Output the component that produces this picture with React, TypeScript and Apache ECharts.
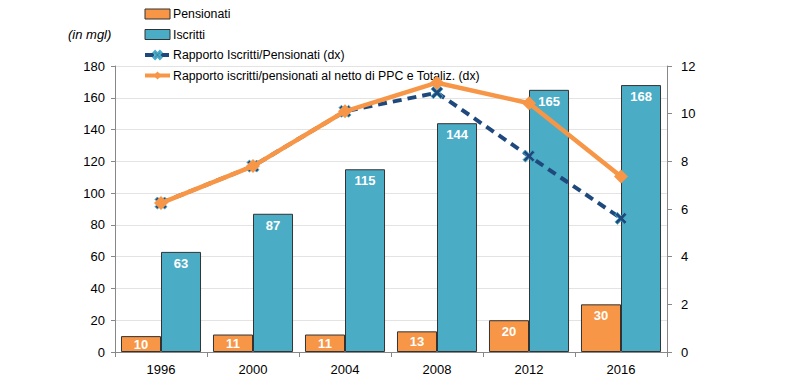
import React, { useEffect, useRef } from "react";
import * as echarts from "echarts";

const categories = ["1996", "2000", "2004", "2008", "2012", "2016"];
const pensionati = [10, 11, 11, 13, 20, 30];
const iscritti = [63, 87, 115, 144, 165, 168];
const rapporto = [6.25, 7.8, 10.1, 10.88, 8.22, 5.61];
const rapportoNetto = [6.25, 7.8, 10.1, 11.3, 10.44, 7.36];
const leftTicks = { min: 0, max: 180, interval: 20 };
const rightTicks = { min: 0, max: 12, interval: 2 };

const FONT = "Liberation Sans";
const XMARK = "path://M0,2 L2,0 L5,3 L8,0 L10,2 L7,5 L10,8 L8,10 L5,7 L2,10 L0,8 L3,5 Z";

export default function App() {
  const ref = useRef<HTMLDivElement>(null);
  useEffect(() => {
    if (!ref.current) return;
    const chart = echarts.init(ref.current, null, { renderer: "svg" });
    const smallLabel = (v: number) => v < 15;
    chart.setOption({
      animation: false,
      textStyle: { fontFamily: FONT },
      grid: { left: 115, right: 133, top: 66, bottom: 37 },
      legend: {
        orient: "vertical",
        left: 143,
        top: 8,
        padding: 0,
        itemWidth: 25,
        itemHeight: 10,
        itemGap: 8.5,
        lineStyle: { width: 4 },
        textStyle: { fontFamily: FONT, fontSize: 12.3, color: "#000", padding: [0, 0, 0, -2] },
        data: [
          { name: "Pensionati", icon: "rect", itemStyle: { borderColor: "#333", borderWidth: 1 } },
          { name: "Iscritti", icon: "rect", itemStyle: { borderColor: "#333", borderWidth: 1 } },
          { name: "Rapporto Iscritti/Pensionati (dx)" },
          { name: "Rapporto iscritti/pensionati al netto di PPC e Totaliz. (dx)" },
        ],
      },
      graphic: [
        {
          type: "text",
          left: 68,
          top: 28,
          style: { text: "(in mgl)", font: `italic 13px ${FONT}`, fill: "#000" },
        },
      ],
      xAxis: {
        type: "category",
        data: categories,
        axisLine: { lineStyle: { color: "#888" } },
        axisTick: { show: true, length: 5, lineStyle: { color: "#888" } },
        axisLabel: { color: "#000", fontSize: 13, margin: 11, fontFamily: FONT },
      },
      yAxis: [
        {
          type: "value",
          ...leftTicks,
          axisLine: { show: true, lineStyle: { color: "#888" } },
          axisTick: { show: true, length: 4, lineStyle: { color: "#888" } },
          axisLabel: { color: "#000", fontSize: 13, margin: 10, fontFamily: FONT },
          splitLine: { lineStyle: { color: "#e3e3e3" } },
        },
        {
          type: "value",
          ...rightTicks,
          position: "right",
          axisLine: { show: true, lineStyle: { color: "#888" } },
          axisTick: { show: true, length: 5, lineStyle: { color: "#888" } },
          axisLabel: { color: "#000", fontSize: 13, margin: 14, fontFamily: FONT },
          splitLine: { show: false },
        },
      ],
      series: [
        {
          name: "Pensionati",
          type: "bar",
          barGap: "0%",
          barCategoryGap: "13%",
          itemStyle: { color: "#F79646", borderColor: "#333", borderWidth: 1 },
          data: pensionati.map((v) => ({
            value: v,
            label: { position: smallLabel(v) ? "inside" : "insideTop" },
          })),
          label: {
            show: true,
            position: "insideTop",
            distance: 5,
            color: "#fff",
            fontWeight: "bold",
            fontSize: 13,
            fontFamily: FONT,
          },
        },
        {
          name: "Iscritti",
          type: "bar",
          barGap: "0%",
          barCategoryGap: "13%",
          itemStyle: { color: "#4BACC6", borderColor: "#333", borderWidth: 1 },
          data: iscritti,
          label: {
            show: true,
            position: "insideTop",
            distance: 5,
            color: "#fff",
            fontWeight: "bold",
            fontSize: 13,
            fontFamily: FONT,
          },
        },
        {
          name: "Rapporto Iscritti/Pensionati (dx)",
          type: "line",
          yAxisIndex: 1,
          data: rapporto,
          symbol: XMARK,
          symbolSize: 12,
          lineStyle: { color: "#1F497D", width: 4, type: [9, 6] },
          itemStyle: { color: "#1F497D", borderColor: "#4BACC6", borderWidth: 1 },
          z: 3,
        },
        {
          name: "Rapporto iscritti/pensionati al netto di PPC e Totaliz. (dx)",
          type: "line",
          yAxisIndex: 1,
          data: rapportoNetto,
          symbol: "diamond",
          symbolSize: 14,
          lineStyle: { color: "#F79646", width: 4.5 },
          itemStyle: { color: "#F79646" },
          z: 4,
        },
      ],
    });
    return () => chart.dispose();
  }, []);
  return (
    <div
      ref={ref}
      style={{ position: "fixed", left: 0, top: 0, width: 800, height: 389, background: "#fff" }}
    />
  );
}
